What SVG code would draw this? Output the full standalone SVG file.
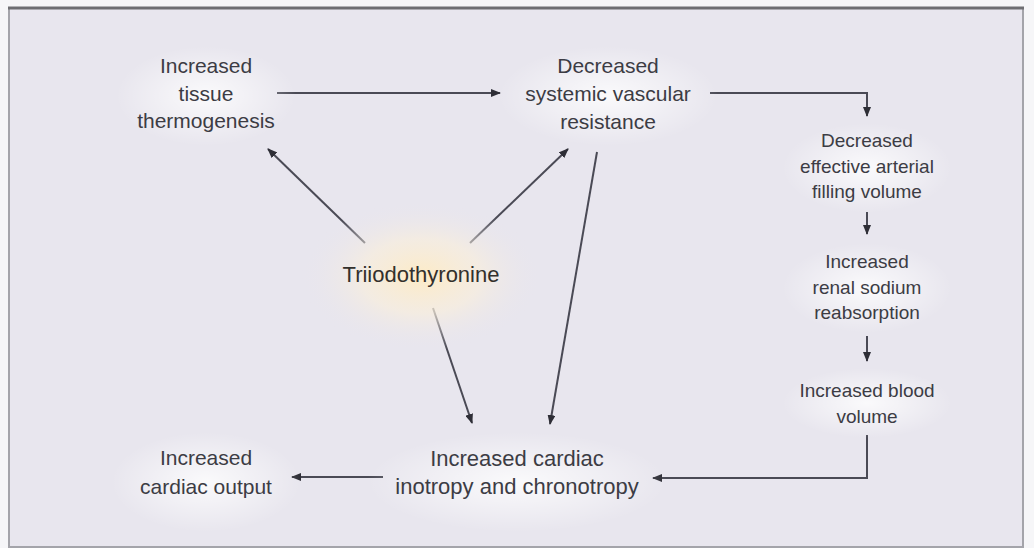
<svg xmlns="http://www.w3.org/2000/svg" width="1034" height="548" viewBox="0 0 1034 548">
<style>
.t{font-family:"Liberation Sans",Arial,sans-serif;font-size:21px;fill:#3c3c44;text-anchor:middle}
.s{font-size:19px}
.c{stroke:#4a4a55;stroke-width:2;fill:none;marker-end:url(#ah)}
</style>
<defs>
<marker id="ah" markerWidth="10" markerHeight="8" refX="9" refY="4" orient="auto" markerUnits="userSpaceOnUse">
<path d="M0,0 L10,4 L0,8 z" fill="#2e2e36"/>
</marker>
<radialGradient id="glow">
<stop offset="0" stop-color="#fdebc6" stop-opacity="1"/>
<stop offset="0.5" stop-color="#f8eedd" stop-opacity="0.7"/>
<stop offset="1" stop-color="#e8e5ee" stop-opacity="0"/>
</radialGradient>
<radialGradient id="halo">
<stop offset="0" stop-color="#ffffff" stop-opacity="0.8"/>
<stop offset="1" stop-color="#ffffff" stop-opacity="0"/>
</radialGradient>
</defs>
<rect width="1034" height="548" fill="#f6f6f8"/>
<rect x="9" y="8" width="1014" height="539" fill="#e8e6ee" stroke="#a4a4aa" stroke-width="2"/>
<line x1="8" y1="8" x2="1024" y2="8" stroke="#6e6e72" stroke-width="3"/>
<g id="connectors">
<path class="c" d="M277,93 L500,93"/>
<path class="c" d="M710,93 L867,93 L867,116"/>
<path class="c" d="M867,212 L867,234"/>
<path class="c" d="M867,336 L867,361"/>
<path class="c" d="M867,435 L867,478 L653,478"/>
<path class="c" d="M383,477 L292,477"/>
<path class="c" d="M365,243 L268,149"/>
<path class="c" d="M470,243 L568,149"/>
<path class="c" d="M597,152 L550,424"/>
<path class="c" d="M433,308 L472,423"/>
</g>
<g id="n1">
<ellipse cx="206" cy="96" rx="90" ry="50" fill="url(#halo)"/>
<text class="t" x="206" y="73">Increased</text>
<text class="t" x="206" y="101">tissue</text>
<text class="t" x="206" y="128">thermogenesis</text>
</g>
<g id="n2">
<ellipse cx="608" cy="96" rx="110" ry="50" fill="url(#halo)"/>
<text class="t" x="608" y="73">Decreased</text>
<text class="t" x="608" y="101">systemic vascular</text>
<text class="t" x="608" y="129">resistance</text>
</g>
<g id="n3">
<ellipse cx="867" cy="168" rx="85" ry="45" fill="url(#halo)"/>
<text class="t s" x="867" y="147">Decreased</text>
<text class="t s" x="867" y="173">effective arterial</text>
<text class="t s" x="867" y="198">filling volume</text>
</g>
<g id="n4">
<ellipse cx="867" cy="288" rx="85" ry="45" fill="url(#halo)"/>
<text class="t s" x="867" y="268">Increased</text>
<text class="t s" x="867" y="294">renal sodium</text>
<text class="t s" x="867" y="319">reabsorption</text>
</g>
<g id="n5">
<ellipse cx="867" cy="403" rx="85" ry="35" fill="url(#halo)"/>
<text class="t s" x="867" y="397">Increased blood</text>
<text class="t s" x="867" y="423">volume</text>
</g>
<g id="n6">
<ellipse cx="421" cy="276" rx="120" ry="75" fill="url(#glow)"/>
<text class="t" x="421" y="282" style="font-size:22px;fill:#33302c">Triiodothyronine</text>
</g>
<g id="n7">
<ellipse cx="517" cy="482" rx="150" ry="50" fill="url(#halo)"/>
<text class="t" x="517" y="466" style="font-size:22px">Increased cardiac</text>
<text class="t" x="517" y="494" style="font-size:22px">inotropy and chronotropy</text>
</g>
<g id="n8">
<ellipse cx="206" cy="482" rx="95" ry="50" fill="url(#halo)"/>
<text class="t" x="206" y="465">Increased</text>
<text class="t" x="206" y="494">cardiac output</text>
</g>
</svg>
